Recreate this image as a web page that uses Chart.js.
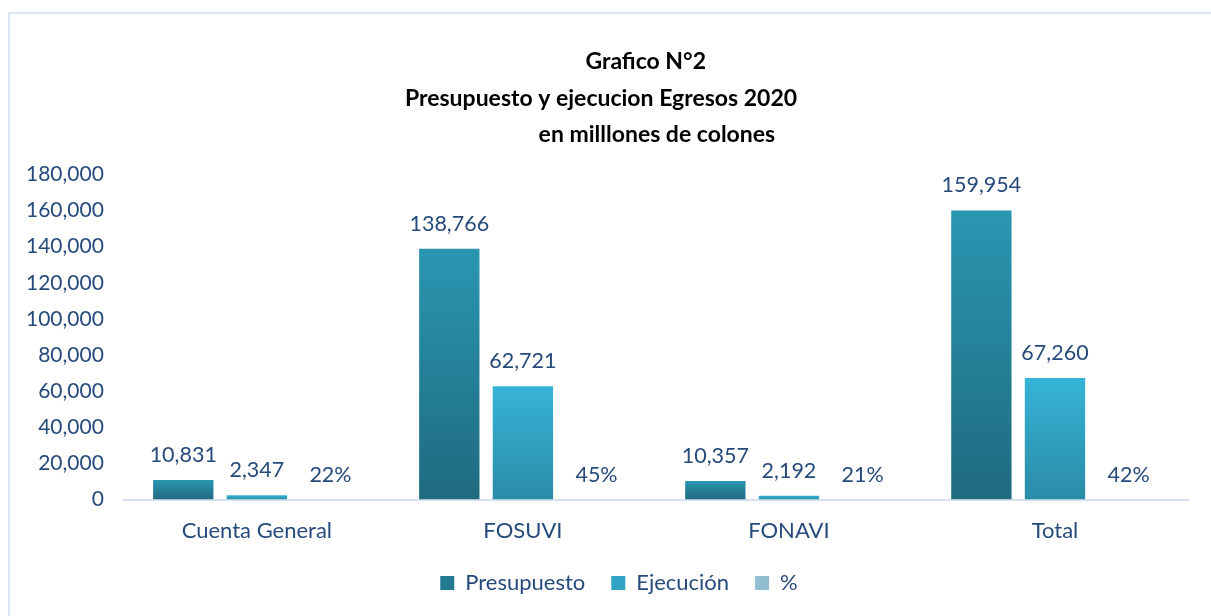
<!DOCTYPE html>
<html>
<head>
<meta charset="utf-8">
<script src="https://cdn.jsdelivr.net/npm/chart.js@4"></script>
<style>
  html, body { margin: 0; padding: 0; background: #fff; }
  #wrap { position: relative; width: 1211px; height: 616px; }
  #frame { position: absolute; left: 8px; top: 12px; width: 1220px; height: 620px; border: 2px solid #dae5f4; box-sizing: border-box; }
  #myChart { position: absolute; left: 0; top: 0; }
</style>
</head>
<body>
<div id="wrap">
  <div id="frame"></div>
  <canvas id="myChart" width="1211" height="616"></canvas>
</div>
<script>
// chart data
const categories = ['Cuenta General', 'FOSUVI', 'FONAVI', 'Total'];
const presupuesto = [10831, 138766, 10357, 159954];
const ejecucion = [2347, 62721, 2192, 67260];
const porcentaje = [0.22, 0.45, 0.21, 0.42];
const yTicks = [0, 20000, 40000, 60000, 80000, 100000, 120000, 140000, 160000, 180000];

const textColor = '#264a7c';
const fontFamily = 'Lato, "Open Sans", sans-serif';

// vertical gradient per bar, from top of bar to baseline
function barGradient(topColor, bottomColor) {
    return function(context) {
        const chart = context.chart;
        const yScale = chart.scales.y;
        if (!yScale || context.type !== 'data') return bottomColor;
        const top = yScale.getPixelForValue(context.parsed ? context.parsed.y : 0);
        const base = yScale.getPixelForValue(0);
        if (!isFinite(top) || !isFinite(base) || top === base) return bottomColor;
        const g = chart.ctx.createLinearGradient(0, top, 0, base);
        g.addColorStop(0, topColor);
        g.addColorStop(1, bottomColor);
        return g;
    };
}

// draw value labels over the bars
const valueLabels = {
    id: 'valueLabels',
    afterDatasetsDraw(chart) {
        const ctx = chart.ctx;
        ctx.save();
        ctx.fillStyle = textColor;
        ctx.font = '21.5px ' + fontFamily;
        ctx.textAlign = 'center';
        ctx.textBaseline = 'middle';
        chart.data.datasets.forEach((ds, i) => {
            const meta = chart.getDatasetMeta(i);
            meta.data.forEach((bar, j) => {
                const v = ds.data[j];
                const txt = ds.isPercent ? Math.round(v * 100) + '%' : v.toLocaleString('en-US');
                ctx.fillText(txt, bar.x, bar.y - 25);
            });
        });
        ctx.restore();
    }
};

// legend: wide item spacing but a short box, sitting a bit right of centre
const legendShift = {
    id: 'legendShift',
    beforeLayout(chart) {
        const lg = chart.legend;
        if (lg && !lg._patched) {
            const fit = lg.fit;
            lg.fit = function() {
                fit.call(this);
                this.height -= 8;
            };
            lg._patched = true;
        }
    },
    afterLayout(chart) {
        chart.legend.left += 18;
        chart.legend.right += 18;
        chart.legend.top -= 8;
        chart.legend.bottom -= 8;
    }
};

const ctx = document.getElementById('myChart').getContext('2d');
window.myChart = new Chart(ctx, {
    type: 'bar',
    data: {
        labels: categories,
        datasets: [{
            label: 'Presupuesto',
            data: presupuesto,
            backgroundColor: barGradient('#2a96b1', '#1f6a7f')
        }, {
            label: 'Ejecución',
            data: ejecucion,
            backgroundColor: barGradient('#36b4d8', '#2a8ba6')
        }, {
            label: '%',
            data: porcentaje,
            isPercent: true,
            backgroundColor: '#8fb9cc'
        }]
    },
    options: {
        responsive: false,
        animation: false,
        categoryPercentage: 0.83,
        barPercentage: 0.82,
        layout: {
            padding: { left: 14, right: 23, top: 10, bottom: 12 }
        },
        plugins: {
            title: {
                display: true,
                // the original title lines carry leading spaces
                text: [' '.repeat(16) + 'Grafico N°2', 'Presupuesto y ejecucion Egresos 2020', ' '.repeat(20) + 'en milllones de colones'],
                color: '#000',
                font: { family: fontFamily, size: 23, weight: 'bold', lineHeight: 1.57 },
                padding: { top: 34, bottom: 22 }
            },
            legend: {
                position: 'bottom',
                labels: {
                    color: textColor,
                    font: { family: fontFamily, size: 22 },
                    boxWidth: 14,
                    boxHeight: 14,
                    padding: 26,
                    generateLabels: function(chart) {
                        const cols = ['#237a91', '#2fa3c4', '#92bccf'];
                        return chart.data.datasets.map((ds, i) => ({
                            text: ds.label,
                            fillStyle: cols[i],
                            strokeStyle: cols[i],
                            lineWidth: 0,
                            fontColor: textColor,
                            datasetIndex: i
                        }));
                    }
                }
            },
            tooltip: { enabled: false }
        },
        scales: {
            x: {
                grid: { display: false },
                border: { color: '#d6e2f1', width: 2 },
                ticks: { color: textColor, font: { family: fontFamily, size: 22 }, padding: 10 }
            },
            y: {
                min: 0,
                max: 180000,
                grid: { display: false },
                border: { display: false },
                afterBuildTicks: function(scale) {
                    scale.ticks = yTicks.map(v => ({ value: v }));
                },
                ticks: {
                    color: textColor,
                    font: { family: fontFamily, size: 21 },
                    padding: 12,
                    callback: v => v.toLocaleString('en-US')
                }
            }
        }
    },
    plugins: [valueLabels, legendShift]
});
</script>
</body>
</html>
